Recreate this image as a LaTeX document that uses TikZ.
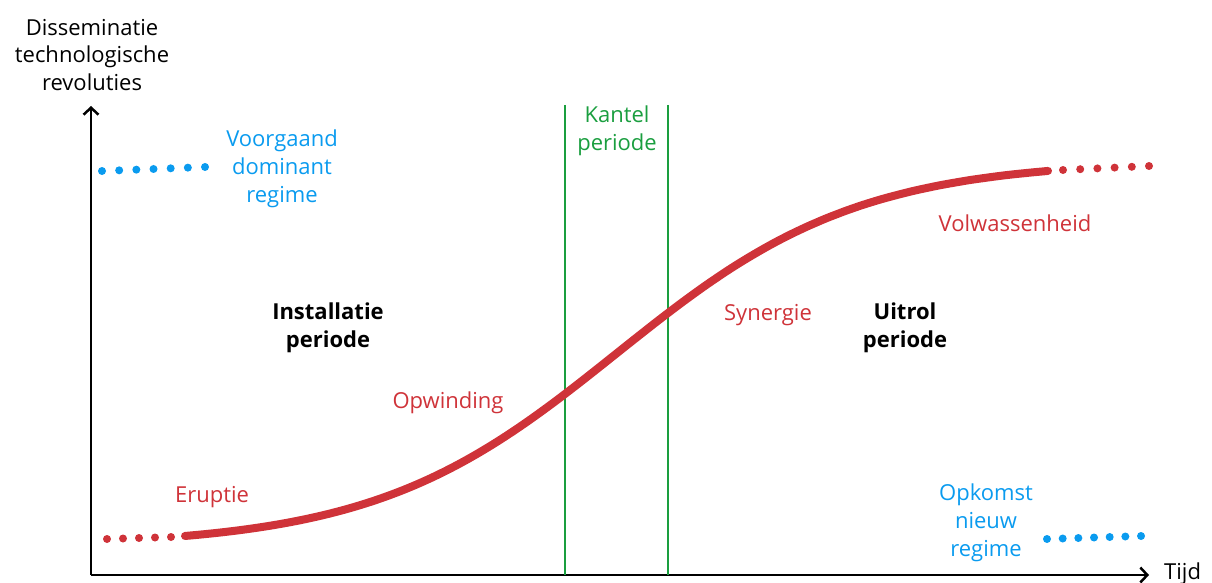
\documentclass[tikz,border=0pt]{standalone}
\usepackage{fontspec}
\setmainfont{Open Sans}
\usetikzlibrary{arrows.meta}
\definecolor{cred}{HTML}{CF3339}
\definecolor{cblue}{HTML}{0A9BEF}
\definecolor{cgreen}{HTML}{1A9E3F}
\tikzset{
  lbl/.style={inner sep=0pt, align=center, font=\fontsize{22}{27.8}\selectfont},
  redlbl/.style={lbl, text=cred},
  bluelbl/.style={lbl, text=cblue},
  boldlbl/.style={lbl, font=\fontsize{22}{27.8}\selectfont\bfseries},
  axisline/.style={line width=2.5pt, -{Straight Barb[length=7pt,width=15pt,line width=2.5pt]}},
  greenline/.style={cgreen, line width=2pt},
  reddot/.style={fill=cred, draw=none},
  bluedot/.style={fill=cblue, draw=none},
}
\begin{document}
\begin{tikzpicture}[x=1pt,y=-1pt]
\useasboundingbox (0,0) rectangle (1212,583);
% axes
\coordinate (O) at (91,575);
\coordinate (ytip) at (91,106);
\coordinate (xtip) at (1149,575);
\draw[axisline] (O) -- (ytip);
\draw[axisline] (O) -- (xtip);
\node[lbl, anchor=west] (tijd) at (1164,574) {Tijd};
\node[lbl] (ylab) at (92,55) {Disseminatie\\technologische\\revoluties};
% green lines
\coordinate (g1t) at (565,105);
\coordinate (g1b) at (565,575);
\coordinate (g2t) at (668,105);
\coordinate (g2b) at (668,575);
\draw[greenline] (g1t) -- (g1b);
\draw[greenline] (g2t) -- (g2b);
\node[lbl, text=cgreen] (kantel) at (617,131) {Kantel\\periode};
% curve
\draw[cred, line width=8pt, line cap=round]
  plot[domain=185:1048, samples=120, smooth]
  (\x, {536 - 365*((1/(1+exp(-(\x-616.5)/121))) - 0.0274)/0.945});
% dots
\foreach \i in {0,...,4} \fill[reddot] ({107+16*\i},{539-0.5*\i}) circle (4);
\foreach \i in {0,...,5} \fill[reddot] ({1063+17.2*\i},{170-0.8*\i}) circle (4);
\foreach \i in {0,...,6} \fill[bluedot] ({102+17.17*\i},{171-0.67*\i}) circle (4);
\foreach \i in {0,...,6} \fill[bluedot] ({1047+15.67*\i},{539-0.5*\i}) circle (4);
% labels
\node[bluelbl] (voorgaand) at (282,169) {Voorgaand\\dominant\\regime};
\node[bluelbl] (opkomst) at (986,523) {Opkomst\\nieuw\\regime};
\node[boldlbl] (install) at (328,328) {Installatie\\periode};
\node[boldlbl] (uitrol) at (905,328) {Uitrol\\periode};
\node[redlbl] (opw) at (448,403) {Opwinding};
\node[redlbl] (syn) at (768,315) {Synergie};
\node[redlbl] (volw) at (1015,223) {Volwassenheid};
\node[redlbl] (erup) at (212,497) {Eruptie};
\end{tikzpicture}
\end{document}
